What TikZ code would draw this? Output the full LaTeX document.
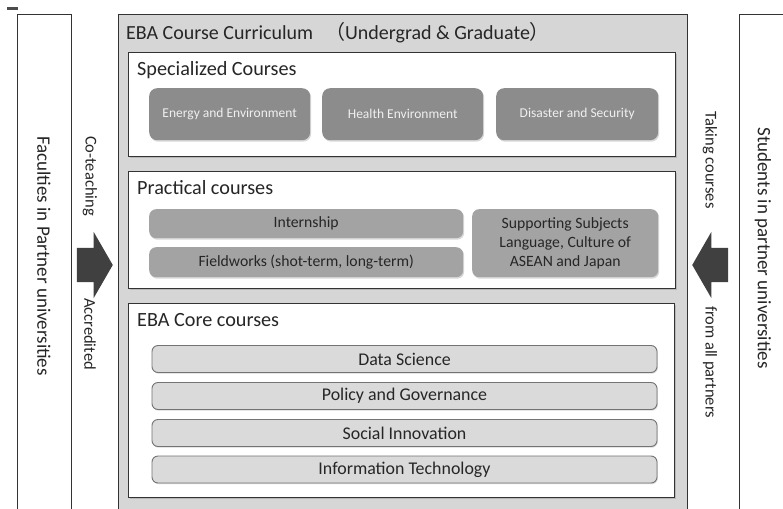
\documentclass[tikz,border=0pt]{standalone}
\usepackage{fontspec}
\setmainfont{Carlito}
\newfontfamily\cjkfont{Noto Sans CJK JP}
\usetikzlibrary{shadows,shapes.arrows}
\definecolor{maingray}{HTML}{D6D6D6}
\definecolor{darkfill}{HTML}{8C8C8C}
\definecolor{midfill}{HTML}{A3A3A3}
\definecolor{lightfill}{HTML}{DADADA}
\definecolor{txt}{HTML}{262626}
\definecolor{arrowgray}{HTML}{404040}
\tikzset{
  frame/.style={draw=black!80, line width=1pt, inner sep=0pt, outer sep=0pt, anchor=north west},
  sidebox/.style={frame, fill=white},
  mainbox/.style={frame, fill=maingray},
  section/.style={frame, fill=white, drop shadow={shadow xshift=1.5pt, shadow yshift=-1.5pt, opacity=.35}},
  specbox/.style={draw=none, fill=darkfill, rounded corners=8pt, inner sep=0pt, anchor=north west,
     text=white!94!black, font=\fontsize{13.5}{15}\selectfont,
     drop shadow={shadow xshift=1pt, shadow yshift=-1.5pt, opacity=.3}},
  pracbox/.style={draw=none, fill=midfill, rounded corners=7pt, inner sep=0pt, anchor=north west,
     text=txt, font=\fontsize{15.7}{19}\selectfont, align=center,
     drop shadow={shadow xshift=1pt, shadow yshift=-1.5pt, opacity=.3}},
  corebox/.style={draw=black!55, line width=.9pt, fill=lightfill, rounded corners=6pt, inner sep=0pt,
     minimum width=505pt, minimum height=27pt, text=txt, font=\fontsize{17.9}{20}\selectfont,
     drop shadow={shadow xshift=.8pt, shadow yshift=-1.2pt, opacity=.3}},
  heading/.style={anchor=base west, inner sep=0pt, text=txt, font=\fontsize{20.2}{22}\selectfont},
  sidetext/.style={rotate=-90, inner sep=0pt, text=txt, font=\fontsize{19}{21}\selectfont},
  arrowtext/.style={rotate=-90, inner sep=0pt, text=txt, font=\fontsize{16.5}{18}\selectfont},
  blockarrow/.style={single arrow, draw=none, fill=arrowgray, inner xsep=0pt, inner ysep=17pt,
     minimum height=36pt, single arrow head extend=16pt, single arrow tip angle=120,
     anchor=tip},
}
\begin{document}
\begin{tikzpicture}[x=1pt,y=-1pt]
\useasboundingbox (0,0) rectangle (783,508);
\clip (0,0) rectangle (783,508);
\fill[white] (0,0) rectangle (783,508);

% small mark at top left
\fill[black!70] (7,7) rectangle (18,10);

% side boxes
\node[sidebox, minimum width=54pt, minimum height=500pt] (lb) at (17,15) {};
\node[sidebox, minimum width=70pt, minimum height=500pt] (rb) at (739,15) {};
\node[sidetext] (lbt) at (44,256) {Faculties in Partner universities};
\node[sidetext] (rbt) at (763,248) {Students in partner universities};

% main box
\node[mainbox, minimum width=569pt, minimum height=500pt] (main) at (118,15) {};
\node[heading, font=\fontsize{20}{22}\selectfont] (title) at (126,40)
  {EBA Course Curriculum\hspace{12pt}{\cjkfont （}Undergrad \& Graduate{\cjkfont ）}};

% specialized
\node[section, minimum width=547pt, minimum height=103pt] (spec) at (128,53) {};
\node[heading] (spect) at (137,76) {Specialized Courses};
\node[specbox, minimum width=161pt, minimum height=52pt] (energy) at (149,88) {Energy and Environment};
\node[specbox, minimum width=161pt, minimum height=52pt] (health) at (322,88) {Health Environment};
\node[specbox, minimum width=162pt, minimum height=52pt] (disaster) at (496,88) {Disaster and Security};

% practical
\node[section, minimum width=547pt, minimum height=117pt] (prac) at (128,171) {};
\node[heading] (pract) at (137,194) {Practical courses};
\node[pracbox, minimum width=314pt, minimum height=29pt] (intern) at (149,209) {Internship};
\node[pracbox, minimum width=314pt, minimum height=30pt] (field) at (149,247) {Fieldworks (shot-term, long-term)};
\node[pracbox, minimum width=186pt, minimum height=68pt] (support) at (472,209)
  {Supporting Subjects\\Language, Culture of\\ASEAN and Japan};

% core
\node[section, minimum width=546pt, minimum height=194pt] (core) at (128,303) {};
\node[heading] (coret) at (137,326) {EBA Core courses};
\node[corebox] (ds) at (404.5,359) {Data Science};
\node[corebox] (pg) at (404.5,396) {Policy and Governance};
\node[corebox] (si) at (404.5,433) {Social Innovation};
\node[corebox] (it) at (404.5,469.5) {Information Technology};

% arrows and labels
\node[blockarrow] (larrow) at (113,265) {};
\node[blockarrow, shape border rotate=180] (rarrow) at (692,265) {};
\node[arrowtext] (cot) at (90,176) {Co-teaching};
\node[arrowtext] (acc) at (90,334) {Accredited};
\node[arrowtext] (tak) at (710,160) {Taking courses};
\node[arrowtext] (frm) at (710,362) {from all partners};
\end{tikzpicture}
\end{document}
